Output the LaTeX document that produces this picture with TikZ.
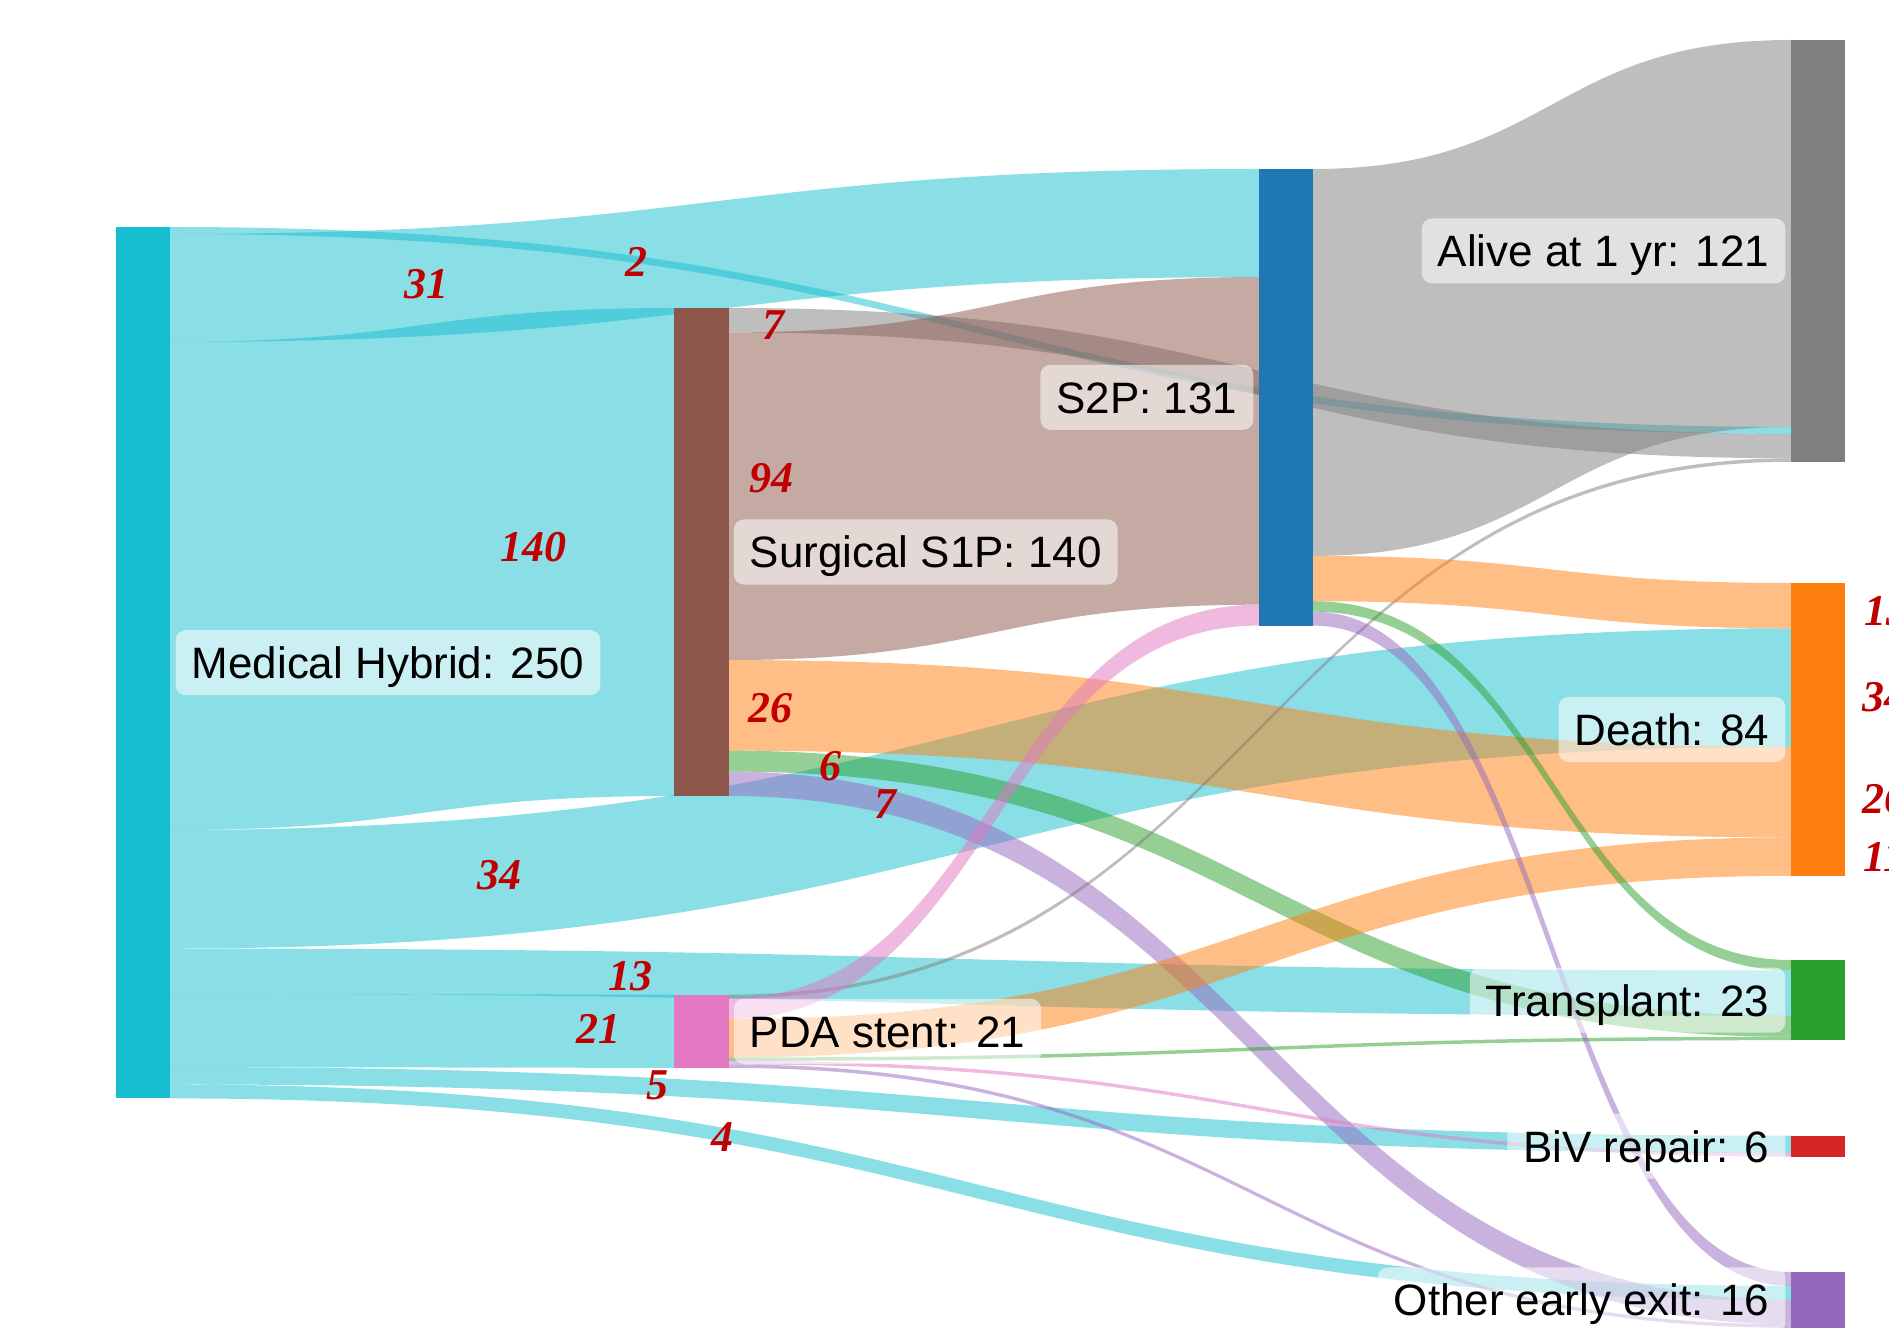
\documentclass[tikz,border=0pt]{standalone}
\usepackage{fontspec}
\setmainfont{Liberation Sans}
\newfontfamily\numfont{Liberation Serif}
\usetikzlibrary{calc}

% node colours
\definecolor{cMH}{HTML}{17BECF}
\definecolor{cSP}{HTML}{8C564B}
\definecolor{cST}{HTML}{1F77B4}
\definecolor{cPDA}{HTML}{E377C2}
\definecolor{cAl}{HTML}{7F7F7F}
\definecolor{cDe}{HTML}{FF7F0E}
\definecolor{cTx}{HTML}{2CA02C}
\definecolor{cBi}{HTML}{D62728}
\definecolor{cOt}{HTML}{9467BD}
\definecolor{numred}{HTML}{C00000}

% height of one patient
\newcommand\Unit{0.03484cm}

\tikzset{
  bar/.style={rectangle, inner sep=0pt, outer sep=0pt, minimum width=0.54cm,
              anchor=north west, fill=#1},
  band/.style={fill=#1, fill opacity=0.5},
  tag/.style={rectangle, rounded corners=0.1cm, fill=white, fill opacity=0.55,
              text opacity=1, inner xsep=0.16cm, inner ysep=0pt, minimum height=0.65cm,
              text height=0.32cm, text depth=0pt, font=\fontsize{12.5}{15}\selectfont},
  count/.style={text=numred, inner sep=0pt,
                font=\numfont\bfseries\itshape\fontsize{12.5}{15}\selectfont},
}

% flow band: source node, offset at source, target node, offset at target, size, colour
\newcommand\flowband[6]{%
  \fill[band=#6] let \p1=([yshift=-#2*\Unit]#1.north east),
                     \p2=([yshift=-#4*\Unit]#3.north west),
                     \p3=([yshift=-(#2+#5)*\Unit]#1.north east),
                     \p4=([yshift=-(#4+#5)*\Unit]#3.north west),
                     \p5=($(\p1)!0.5!(\p2)$) in
    (\p1) .. controls (\x5,\y1) and (\x5,\y2) .. (\p2)
    -- (\p4) .. controls (\x5,\y4) and (\x5,\y3) .. (\p3) -- cycle;}

\begin{document}
\begin{tikzpicture}[x=0.01cm, y=-0.01cm]
\useasboundingbox (0,0) rectangle (1889,1334);
\fill[white] (0,0) rectangle (1889,1334);
\begin{scope}
\clip (0,0) rectangle (1889,1334);

% stages
\node[bar=cMH,  minimum height=250*\Unit] (mh) at (116,227) {};
\node[bar=cSP,  minimum height=140*\Unit, minimum width=0.55cm] (sp) at (674,308) {};
\node[bar=cPDA, minimum height=21*\Unit,  minimum width=0.55cm] (pda) at (674,994.7) {};
\node[bar=cST,  minimum height=131*\Unit] (st) at (1259,169) {};
\node[bar=cAl,  minimum height=121*\Unit] (al) at (1791,40) {};
\node[bar=cDe,  minimum height=84*\Unit]  (de) at (1791,583) {};
\node[bar=cTx,  minimum height=23*\Unit]  (tx) at (1791,960) {};
\node[bar=cBi,  minimum height=6*\Unit]   (bi) at (1791,1135.7) {};
\node[bar=cOt,  minimum height=16*\Unit]  (ot) at (1791,1272) {};

% flows out of Medical Hybrid
\flowband{mh}{0}{al}{111}{2}{cMH}
\flowband{mh}{2}{st}{0}{31}{cMH}
\flowband{mh}{33}{sp}{0}{140}{cMH}
\flowband{mh}{173}{de}{13}{34}{cMH}
\flowband{mh}{207}{tx}{3}{13}{cMH}
\flowband{mh}{220}{pda}{0}{21}{cMH}
\flowband{mh}{241}{bi}{0}{5}{cMH}
\flowband{mh}{246}{ot}{4}{4}{cMH}
% flows out of Surgical S1P
\flowband{sp}{0}{al}{113}{7}{cAl}
\flowband{sp}{7}{st}{31}{94}{cSP}
\flowband{sp}{101}{de}{47}{26}{cDe}
\flowband{sp}{127}{tx}{16}{6}{cTx}
\flowband{sp}{133}{ot}{8}{7}{cOt}
% flows out of PDA stent
\flowband{pda}{0}{al}{120}{1}{cAl}
\flowband{pda}{1}{st}{125}{6}{cPDA}
\flowband{pda}{7}{de}{73}{11}{cDe}
\flowband{pda}{18}{tx}{22}{1}{cTx}
\flowband{pda}{19}{bi}{5}{1}{cPDA}
\flowband{pda}{20}{ot}{15}{1}{cOt}
% flows out of S2P
\flowband{st}{0}{al}{0}{111}{cAl}
\flowband{st}{111}{de}{0}{13}{cDe}
\flowband{st}{124}{tx}{0}{3}{cTx}
\flowband{st}{127}{ot}{0}{4}{cOt}

% redraw the stages above the flows
\node[bar=cMH,  minimum height=250*\Unit] at (116,227) {};
\node[bar=cSP,  minimum height=140*\Unit, minimum width=0.55cm] at (674,308) {};
\node[bar=cPDA, minimum height=21*\Unit,  minimum width=0.55cm] at (674,994.7) {};
\node[bar=cST,  minimum height=131*\Unit] at (1259,169) {};
\node[bar=cAl,  minimum height=121*\Unit] at (1791,40) {};
\node[bar=cDe,  minimum height=84*\Unit]  at (1791,583) {};
\node[bar=cTx,  minimum height=23*\Unit]  at (1791,960) {};
\node[bar=cBi,  minimum height=6*\Unit]   at (1791,1135.7) {};
\node[bar=cOt,  minimum height=16*\Unit]  at (1791,1272) {};

% stage names
\node[tag, anchor=west] (mhL)  at ([xshift=0.05cm]mh.east)  {Medical Hybrid: 250};
\node[tag, anchor=west] (spL)  at ([xshift=0.04cm]sp.east)  {Surgical S1P: 140};
\node[tag, anchor=west] (pdaL) at ([xshift=0.04cm]pda.east) {PDA stent: 21};
\node[tag, anchor=east] (stL)  at ([xshift=-0.05cm]st.west) {S2P: 131};
\node[tag, anchor=east] (alL)  at ([xshift=-0.05cm]al.west) {Alive at 1 yr: 121};
\node[tag, anchor=east] (deL)  at ([xshift=-0.05cm]de.west) {Death: 84};
\node[tag, anchor=east] (txL)  at ([xshift=-0.05cm]tx.west) {Transplant: 23};
\node[tag, anchor=east] (biL)  at ([xshift=-0.05cm]bi.west) {BiV repair: 6};
\node[tag, anchor=east] (otL)  at ([xshift=-0.05cm]ot.west) {Other early exit: 16};

% patient counts on the flows
\node[count] (n31)  at (426,284)  {31};
\node[count] (n2)   at (636,262)  {2};
\node[count] (n7a)  at (773,325)  {7};
\node[count] (n94)  at (771,478)  {94};
\node[count] (n140) at (533,547)  {140};
\node[count] (n34)  at (499,875)  {34};
\node[count] (n26)  at (770,708)  {26};
\node[count] (n6)   at (830,766)  {6};
\node[count] (n7b)  at (885,804)  {7};
\node[count] (n13)  at (630,976)  {13};
\node[count] (n21)  at (598,1029) {21};
\node[count] (n5)   at (657,1085) {5};
\node[count] (n4)   at (722,1137) {4};
% counts into Death, beside the bar
\node[count, anchor=west] (d13) at (1864,611) {13};
\node[count, anchor=west] (d34) at (1862,697) {34};
\node[count, anchor=west] (d26) at (1862,799) {26};
\node[count, anchor=west] (d11) at (1863,857) {11};
\end{scope}
\end{tikzpicture}
\end{document}
